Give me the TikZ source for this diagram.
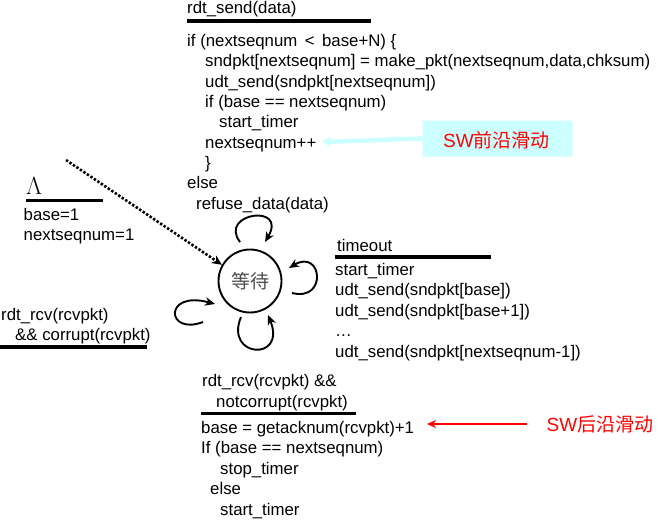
\documentclass[tikz,border=0pt]{standalone}
\usepackage{fontspec}
\setmainfont{Liberation Sans}
\newfontfamily\cjk{Noto Sans CJK SC}
\usetikzlibrary{arrows.meta}
\definecolor{swcyan}{RGB}{204,255,255}
\tikzset{
  code/.style={anchor=base west, inner sep=0pt, font=\fontsize{16.8}{20}\selectfont},
  bar/.style={line width=3.6pt},
  loop/.style={line width=1.9pt, -{Stealth[length=10pt,width=8.5pt]}},
  swlabel/.style={anchor=base west, inner sep=0pt, text=red, font=\fontsize{19}{22}\selectfont},
}
\begin{document}
\begin{tikzpicture}[x=1pt,y=-1pt]
\useasboundingbox (0,0) rectangle (662,523);

% state
\node[circle, draw, line width=1.9pt, minimum size=63pt, inner sep=0pt,
      font=\cjk\fontsize{19}{20}\selectfont, text=black!70] (wait) at (250,281) {等待};

% self loops around the state
\coordinate (t1) at (240,242); \coordinate (t2) at (265,242);
\draw[loop] (t1) .. controls (218,213) and (288,203) .. (t2);
\coordinate (r1) at (292,293); \coordinate (r2) at (289,268);
\draw[loop] (r1) .. controls (328,302) and (322,248) .. (r2);
\coordinate (l1) at (203,322); \coordinate (l2) at (215,304);
\draw[loop] (l1) .. controls (166,336) and (163,290) .. (l2);
\coordinate (b1) at (241,317); \coordinate (b2) at (268,315);
\draw[loop] (b1) .. controls (224,358) and (287,362) .. (b2);

% initial transition
\coordinate (init) at (66,160);
\draw[line width=2.6pt, dash pattern=on 2.4pt off 1.8pt, -{Stealth[length=10pt,width=9pt]}] (init) -- (wait.150);

% rdt_send transition
\node[code] (send) at (187,13) {rdt\_send(data)};
\draw[bar] (187,21) -- (371,21);
\node[code] (s1) at (187,46) {if (nextseqnum \,<\, base+N) \{};
\node[code] (s2) at (205,66.5) {sndpkt[nextseqnum] = make\_pkt(nextseqnum,data,chksum)};
\node[code] (s3) at (205,87) {udt\_send(sndpkt[nextseqnum])};
\node[code] (s4) at (205,107) {if (base == nextseqnum)};
\node[code] (s5) at (219,127.5) {start\_timer};
\node[code] (s6) at (205,148) {nextseqnum++};
\node[code] (s7) at (205,168) {\}};
\node[code] (s8) at (187,188.5) {else};
\node[code] (s9) at (196,209) {refuse\_data(data)};

% front edge of the window
\node[fill=swcyan, rounded corners=1pt, minimum width=150pt, minimum height=36pt,
      inner sep=0pt] (front) at (497.5,138.5) {};
\node[swlabel] (frontlbl) at (443,147) {SW{\cjk 前沿滑动}};
\draw[swcyan, line width=4.5pt, -{Stealth[round,length=9pt,width=11pt]}]
  (front.west) -- (323,142);

% initialisation
\node[anchor=base west, inner sep=0pt, font=\fontsize{23}{24}\selectfont] (lam) at (26,194) {$\Lambda$};
\draw[bar] (26,200.5) -- (103,200.5);
\node[code] (i1) at (23.5,220) {base=1};
\node[code] (i2) at (23.5,240.5) {nextseqnum=1};

% corrupt ack
\node[code] (c1) at (1,320) {rdt\_rcv(rcvpkt)};
\node[code] (c2) at (15,340) {\&\& corrupt(rcvpkt)};
\draw[bar] (0,347) -- (147,347);

% timeout
\node[code] (to) at (337,251.5) {timeout};
\draw[bar] (335,257) -- (491,257);
\node[code] (t3) at (335,275) {start\_timer};
\node[code] (t4) at (335,295.5) {udt\_send(sndpkt[base])};
\node[code] (t5) at (335,316) {udt\_send(sndpkt[base+1])};
\node[code] (t6) at (335,336.5) {…};
\node[code] (t7) at (335,357) {udt\_send(sndpkt[nextseqnum-1])};

% correct ack
\node[code] (a1) at (202,386.5) {rdt\_rcv(rcvpkt) \&\&};
\node[code] (a2) at (216,407) {notcorrupt(rcvpkt)};
\draw[bar] (201,413.5) -- (356,413.5);
\node[code] (a3) at (201,433) {base = getacknum(rcvpkt)+1};
\node[code] (a4) at (201,453.5) {If (base == nextseqnum)};
\node[code] (a5) at (220,474) {stop\_timer};
\node[code] (a6) at (210,494.5) {else};
\node[code] (a7) at (220,515) {start\_timer};

% back edge of the window
\node[swlabel] (backlbl) at (546.5,431) {SW{\cjk 后沿滑动}};
\coordinate (backtail) at (527,424);
\draw[red, line width=2pt, -{Stealth[length=9pt,width=8pt]}] (backtail) -- (427,424);
\end{tikzpicture}
\end{document}
